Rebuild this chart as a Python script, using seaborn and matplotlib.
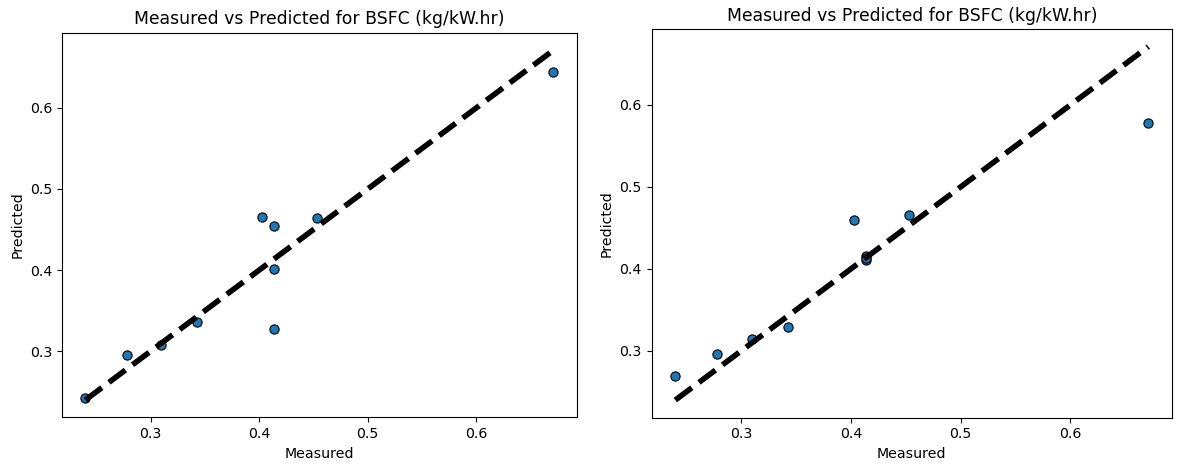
import matplotlib
matplotlib.use("Agg")
import matplotlib.pyplot as plt
import seaborn as sns
import numpy as np

# Data
measured = [0.240, 0.278, 0.310, 0.343, 0.403, 0.414, 0.414, 0.414, 0.453, 0.671]
predicted_left = [0.242, 0.296, 0.308, 0.336, 0.465, 0.454, 0.401, 0.327, 0.464, 0.644]
predicted_right = [0.269, 0.296, 0.315, 0.329, 0.460, 0.416, 0.411, 0.413, 0.466, 0.578]

title = "Measured vs Predicted for BSFC (kg/kW.hr)"
xlabel = "Measured"
ylabel = "Predicted"

fig = plt.figure(figsize=(11.8, 4.66), dpi=100)
ax1 = fig.add_axes([0.0525, 0.1041, 0.4364, 0.8258])
ax2 = fig.add_axes([0.5523, 0.1036, 0.4409, 0.8341])

for ax, pred in [(ax1, predicted_left), (ax2, predicted_right)]:
    sns.scatterplot(x=measured, y=pred, ax=ax, color="#1f77b4",
                    edgecolor="k", linewidth=0.8, s=44)
    lo, hi = min(measured), max(measured)
    ax.plot([lo, hi], [lo, hi], "k--", lw=4)
    ax.set_title(title, fontsize=12.4)
    ax.set_xlabel(xlabel, fontsize=10.2)
    ax.set_ylabel(ylabel, fontsize=10.2)
    ax.tick_params(labelsize=10.2)

fig.savefig("out.png", dpi=100)
